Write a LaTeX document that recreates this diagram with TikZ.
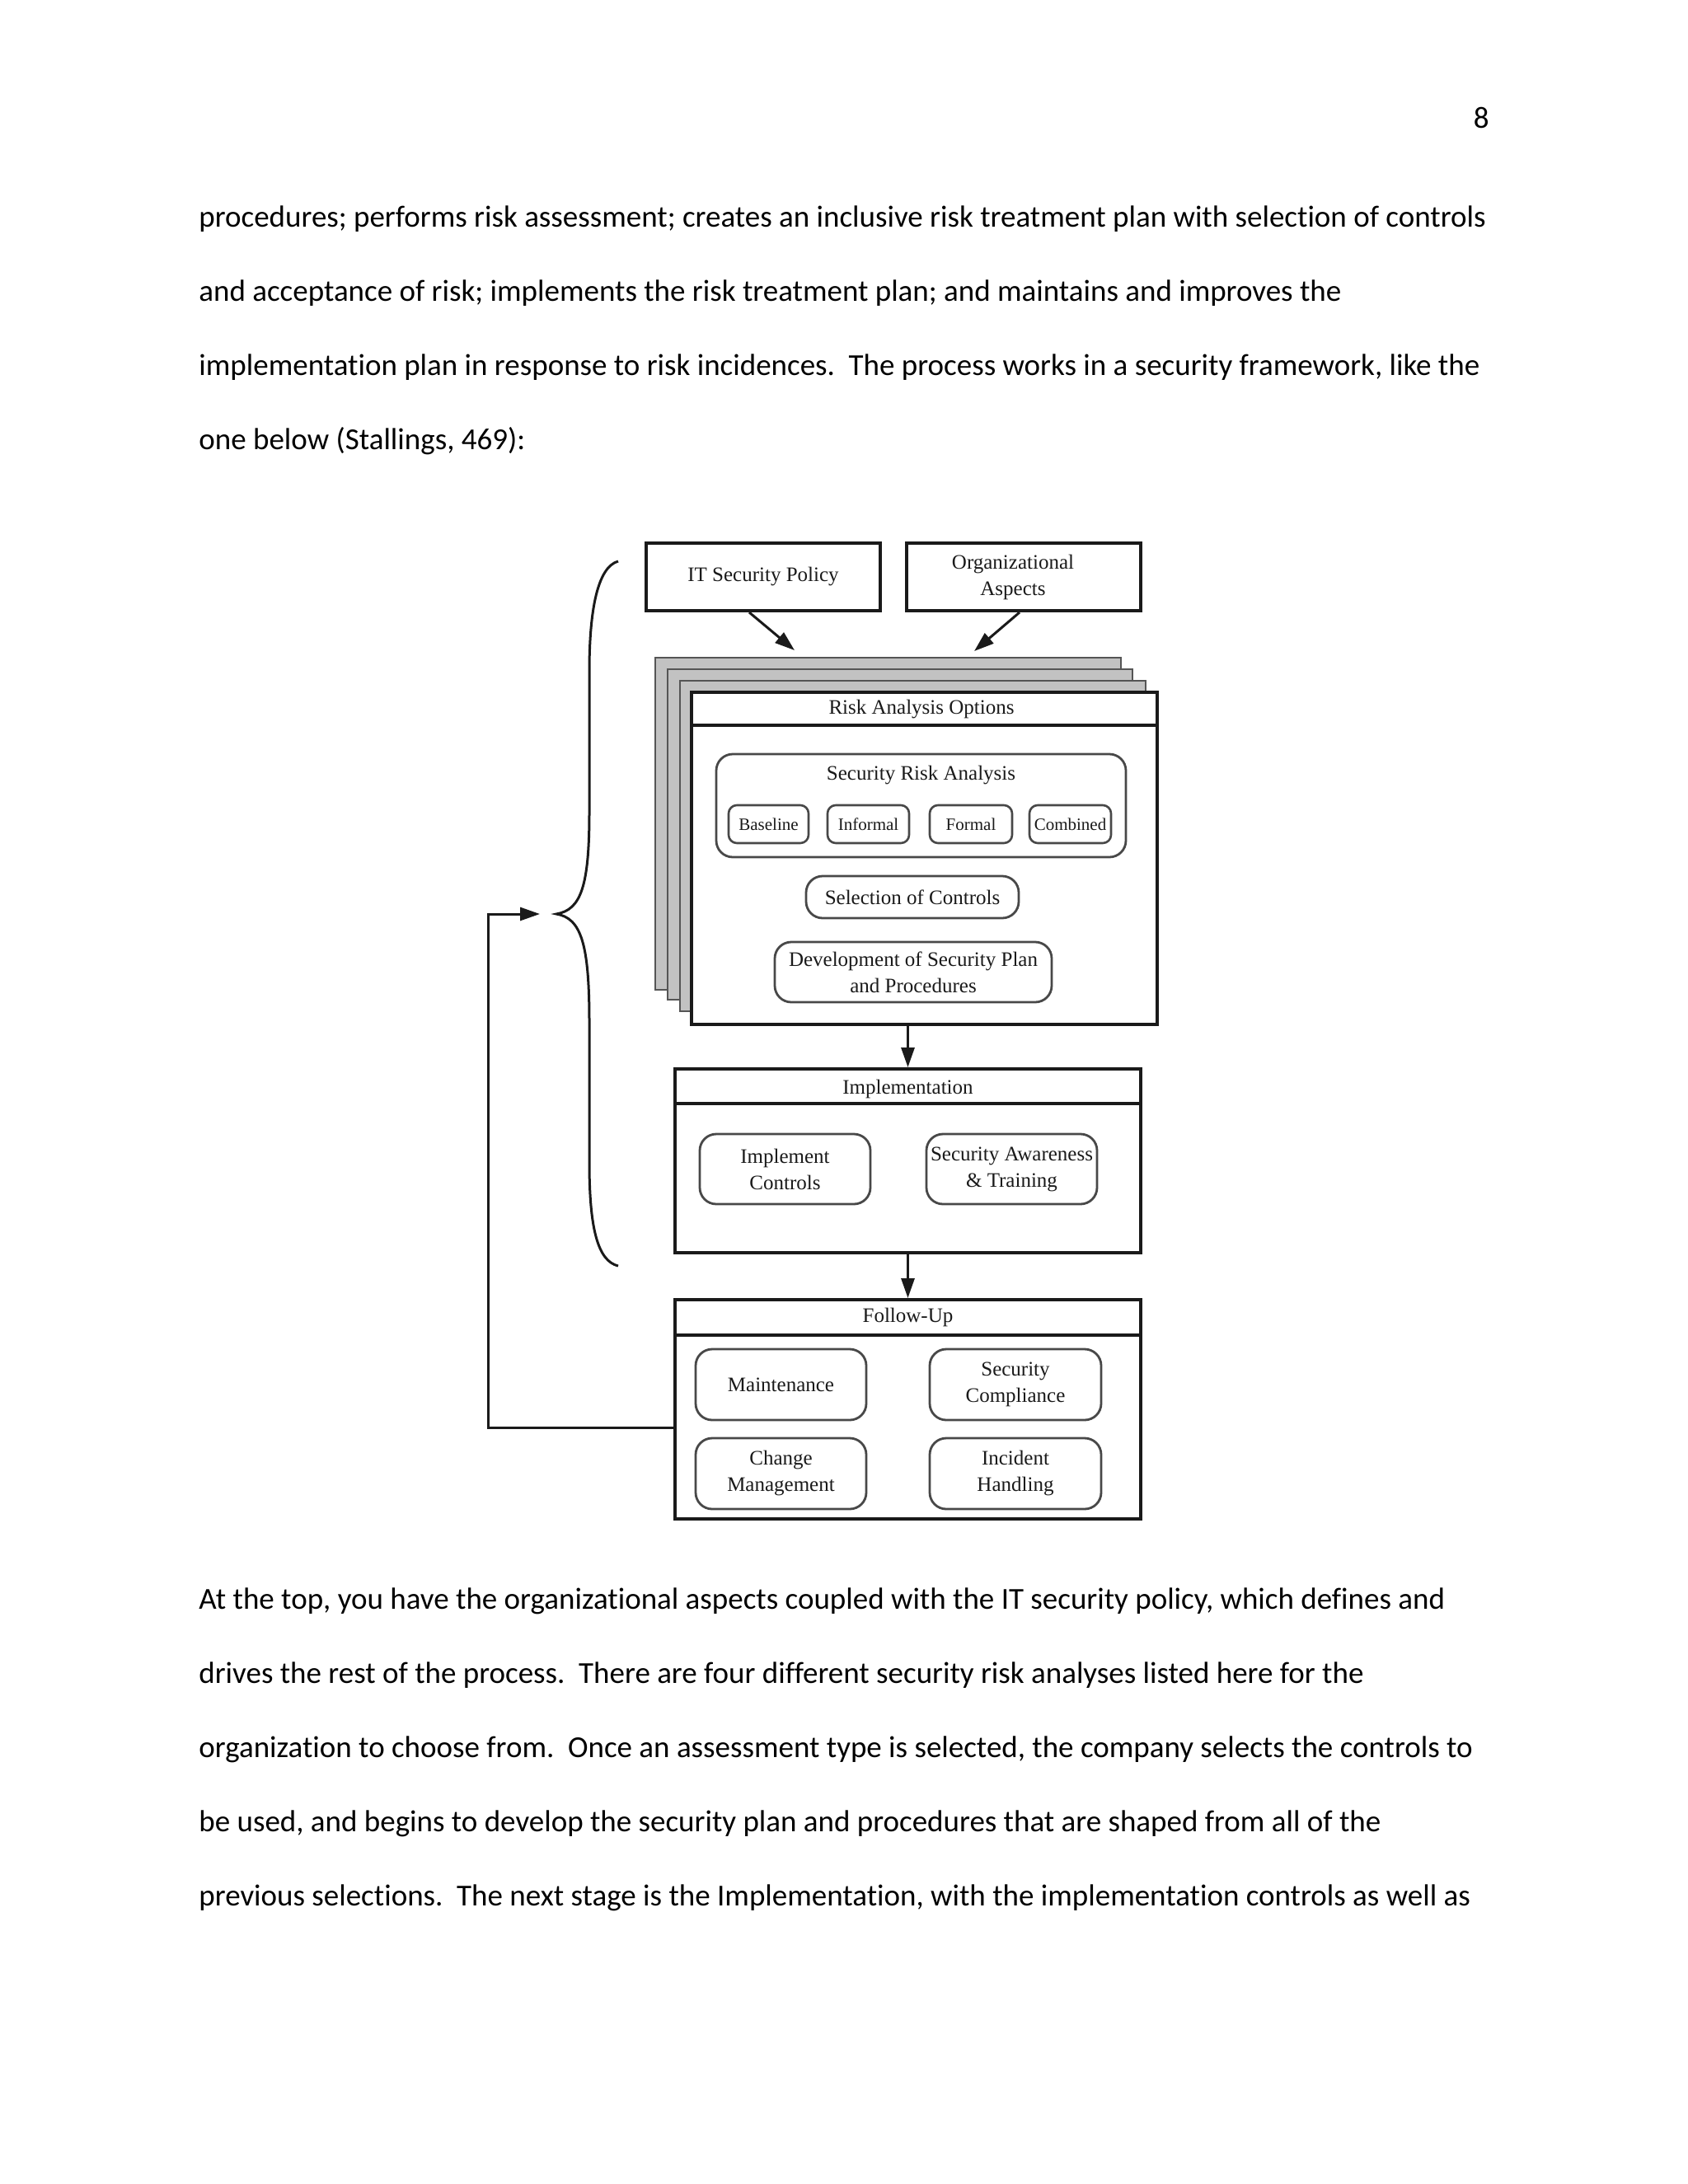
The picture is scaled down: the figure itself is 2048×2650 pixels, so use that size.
\documentclass[tikz,border=0pt]{standalone}
\usepackage{fontspec}
\setmainfont[Ligatures={NoCommon}]{Carlito}
\newfontfamily\diagfont{Liberation Serif}
\usetikzlibrary{arrows.meta}
\newdimen\pxu \pxu=0.5pt
\definecolor{pagegray}{HTML}{C2C2C2}
\definecolor{edgegray}{HTML}{555555}
\definecolor{ink}{HTML}{1A1A1A}
\begin{document}
\begin{tikzpicture}[x=0.5pt,y=-0.5pt,
  bodyline/.style={anchor=base west, inner sep=0pt, font=\fontsize{18.5}{22}\selectfont},
  frame/.style={draw=ink, line width=2pt, fill=white, inner sep=0pt},
  topbox/.style={draw=ink, line width=2pt, inner sep=0pt, align=center, text=ink,
     font=\diagfont\fontsize{12.5}{16}\selectfont},
  pill/.style={draw=ink!80, line width=1.4pt, rounded corners=10pt, inner sep=0pt, align=center, text=ink,
     font=\diagfont\fontsize{12.5}{16}\selectfont},
  smallpill/.style={draw=ink!80, line width=1.3pt, rounded corners=5pt, inner sep=0pt, align=center, text=ink,
     font=\diagfont\fontsize{10.5}{13}\selectfont},
  title/.style={inner sep=0pt, text=ink, align=center, font=\diagfont\fontsize{12.5}{16}\selectfont},
  sheet/.style={draw=edgegray, line width=1pt, fill=pagegray},
  arr/.style={draw=ink, line width=1.5pt, -{Triangle[length=12pt,width=8pt]}},
  conn/.style={draw=ink, line width=1.5pt}
]
\useasboundingbox (0,0) rectangle (2048,2650);
\fill[white] (0,0) rectangle (2048,2650);

% page number
\node[anchor=base east, inner sep=0pt, font=\fontsize{18.5}{22}\selectfont] (pnum) at (1807,155) {8};

% body text above
\node[bodyline] (l1) at (241,275) {procedures; performs risk assessment; creates an inclusive risk treatment plan with selection of controls};
\node[bodyline] (l2) at (241,365) {and acceptance of risk; implements the risk treatment plan; and maintains and improves the};
\node[bodyline] (l3) at (241,455) {implementation plan in response to risk incidences.\ \ The process works in a security framework, like the};
\node[bodyline] (l4) at (241,545) {one below (Stallings, 469):};

% body text below
\node[bodyline] (l5) at (241,1952) {At the top, you have the organizational aspects coupled with the IT security policy, which defines and};
\node[bodyline] (l6) at (241,2042) {drives the rest of the process.\ \ There are four different security risk analyses listed here for the};
\node[bodyline] (l7) at (241,2132) {organization to choose from.\ \ Once an assessment type is selected, the company selects the controls to};
\node[bodyline] (l8) at (241,2222) {be used, and begins to develop the security plan and procedures that are shaped from all of the};
\node[bodyline] (l9) at (241,2312) {previous selections.\ \ The next stage is the Implementation, with the implementation controls as well as};

% top boxes
\node[topbox, minimum width=284\pxu, minimum height=82\pxu] (it) at (926,700) {IT Security Policy};
\node[topbox, minimum width=284\pxu, minimum height=82\pxu] (org) at (1242,700) {};
\node[title] (orgt) at (1229,700) {Organizational\\Aspects};

% stacked sheets
\draw[sheet] (795,798) rectangle (1360,1201);
\draw[sheet] (810,812) rectangle (1374,1213);
\draw[sheet] (825,826) rectangle (1390,1227);
\node[frame, minimum width=565\pxu, minimum height=403\pxu] (front) at (1121.5,1041.5) {};
\draw[draw=ink, line width=2pt] (839,880) -- (1404,880);
\node[title] (rao) at (1118,861) {Risk Analysis Options};

% arrows into sheets
\coordinate (tip1) at (964,789);
\coordinate (tip2) at (1182,790);
\draw[arr] ([xshift=-8.5pt]it.south) -- (tip1);
\draw[arr] ([xshift=-2.5pt]org.south) -- (tip2);

% security risk analysis
\node[pill, minimum width=497\pxu, minimum height=125\pxu] (sra) at (1117.5,977.5) {};
\node[title] (srat) at (1117.5,941) {Security Risk Analysis};
\node[smallpill, minimum width=97\pxu, minimum height=46\pxu] (base) at (932.5,1000) {Baseline};
\node[smallpill, minimum width=99\pxu, minimum height=46\pxu] (inf) at (1053.5,1000) {Informal};
\node[smallpill, minimum width=100\pxu, minimum height=46\pxu] (form) at (1178,1000) {Formal};
\node[smallpill, minimum width=99\pxu, minimum height=46\pxu] (comb) at (1298.5,1000) {Combined};

\node[pill, minimum width=258\pxu, minimum height=51\pxu] (sel) at (1107,1088.5) {Selection of Controls};
\node[pill, minimum width=336\pxu, minimum height=73\pxu] (dev) at (1108,1179.5) {Development of Security Plan\\and Procedures};

% implementation
\node[frame, minimum width=565\pxu, minimum height=223\pxu] (impl) at (1101.5,1408.5) {};
\draw[draw=ink, line width=2pt] (819,1339) -- (1384,1339);
\node[title] (implt) at (1101.5,1321) {Implementation};
\node[pill, minimum width=207\pxu, minimum height=85\pxu] (ic) at (952.5,1418.5) {Implement\\Controls};
\node[pill, minimum width=207\pxu, minimum height=85\pxu] (sat) at (1227.5,1418.5) {Security Awareness\\\& Training};

% follow-up
\node[frame, minimum width=565\pxu, minimum height=266\pxu] (fu) at (1101.5,1710) {};
\draw[draw=ink, line width=2pt] (819,1620) -- (1384,1620);
\node[title] (fut) at (1101.5,1598) {Follow-Up};
\node[pill, minimum width=207\pxu, minimum height=86\pxu] (mnt) at (947.5,1680) {Maintenance};
\node[pill, minimum width=208\pxu, minimum height=86\pxu] (sc) at (1232,1680) {Security\\Compliance};
\node[pill, minimum width=207\pxu, minimum height=86\pxu] (cm) at (947.5,1788) {Change\\Management};
\node[pill, minimum width=208\pxu, minimum height=86\pxu] (ih) at (1232,1788) {Incident\\Handling};

% vertical arrows
\draw[arr] (front.south -| impl.north) -- (impl.north);
\draw[arr] (impl.south) -- (fu.north);

% feedback loop
\coordinate (fbc) at (592,1109);
\coordinate (fbtip) at (655,1109);
\draw[arr] ([yshift=-11pt]fu.west) -| (fbc) -- (fbtip);

% brace
\draw[draw=ink, line width=1.5pt]
  (750,681) .. controls (725,688) and (715,740) .. (715,815)
  -- (715,985) .. controls (715,1075) and (705,1104) .. (675,1109)
  .. controls (705,1114) and (715,1145) .. (715,1240)
  -- (715,1410) .. controls (715,1490) and (725,1530) .. (750,1536);
\end{tikzpicture}
\end{document}
